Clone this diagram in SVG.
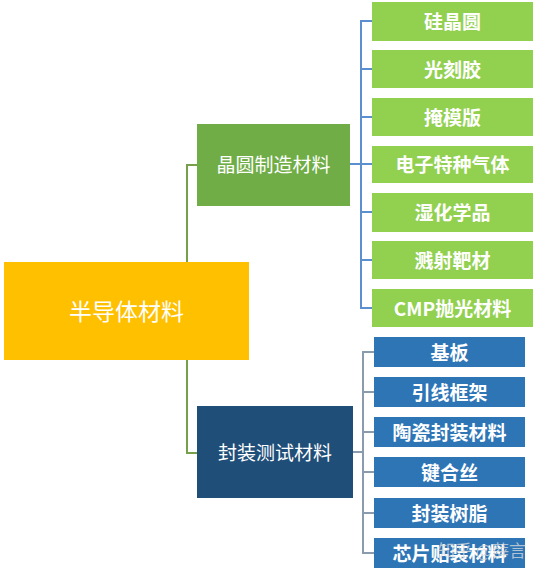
<svg xmlns="http://www.w3.org/2000/svg" width="538" height="572" viewBox="0 0 538 572">
<style>
text{font-family:"Noto Sans CJK SC","Microsoft YaHei",sans-serif;fill:#fff;text-anchor:middle;dominant-baseline:central}
.leaf{font-size:19px;font-weight:bold}
.mid{font-size:19px}
.root{font-size:23px}
.g{fill:#92D050}
.b{fill:#2E75B6}
.c1{stroke:#77A04A;stroke-width:2;fill:none}
.c2{stroke:#5B8FD0;stroke-width:2;fill:none}
.c3{stroke:#8A9BAE;stroke-width:2;fill:none}
</style>
<rect width="538" height="572" fill="#fff"/>
<g id="connectors">
<path class="c1" d="M198 165H187V262M187 360V453H198"/>
<path class="c2" d="M350 164H361M372 21H361V308H372M361 69H372M361 117H372M361 164H372M361 212H372M361 260H372"/>
<path class="c3" d="M353 452H363M374 352H363V553H374M363 392H374M363 432H374M363 472H374M363 513H374"/>
</g>
<g id="root"><rect x="4" y="262" width="245" height="98" fill="#FFC000"/><text class="root" x="126.5" y="310">半导体材料</text></g>
<g id="wafer"><rect x="197" y="124" width="153" height="82" fill="#70AD47"/><text class="mid" x="273.5" y="163">晶圆制造材料</text></g>
<g id="package"><rect x="197" y="406" width="156" height="92" fill="#1F4E79"/><text class="mid" x="275" y="451">封装测试材料</text></g>
<g id="w1"><rect class="g" x="372" y="2" width="161" height="39"/><text class="leaf" x="452.5" y="20">硅晶圆</text></g>
<g id="w2"><rect class="g" x="372" y="50" width="161" height="38"/><text class="leaf" x="452.5" y="68">光刻胶</text></g>
<g id="w3"><rect class="g" x="372" y="98" width="161" height="38"/><text class="leaf" x="452.5" y="116">掩模版</text></g>
<g id="w4"><rect class="g" x="372" y="146" width="161" height="37"/><text class="leaf" x="452.5" y="163">电子特种气体</text></g>
<g id="w5"><rect class="g" x="372" y="193" width="161" height="39"/><text class="leaf" x="452.5" y="211">湿化学品</text></g>
<g id="w6"><rect class="g" x="372" y="241" width="161" height="38"/><text class="leaf" x="452.5" y="259">溅射靶材</text></g>
<g id="w7"><rect class="g" x="372" y="289" width="161" height="38"/><text class="leaf" x="452.5" y="307">CMP抛光材料</text></g>
<g id="p1"><rect class="b" x="374" y="337" width="151" height="30"/><text class="leaf" x="449.5" y="351">基板</text></g>
<g id="p2"><rect class="b" x="374" y="377" width="151" height="30"/><text class="leaf" x="449.5" y="391">引线框架</text></g>
<g id="p3"><rect class="b" x="374" y="417" width="151" height="30"/><text class="leaf" x="449.5" y="431">陶瓷封装材料</text></g>
<g id="p4"><rect class="b" x="374" y="457" width="151" height="30"/><text class="leaf" x="449.5" y="471">键合丝</text></g>
<g id="p5"><rect class="b" x="374" y="498" width="151" height="30"/><text class="leaf" x="449.5" y="512">封装树脂</text></g>
<g id="p6"><rect class="b" x="374" y="538" width="151" height="30"/><text class="leaf" x="449.5" y="552">芯片贴装材料</text></g>
<text x="482" y="549" style="font-size:17px;fill:#ddd;fill-opacity:0.75">知乎 @薛言</text>
</svg>
